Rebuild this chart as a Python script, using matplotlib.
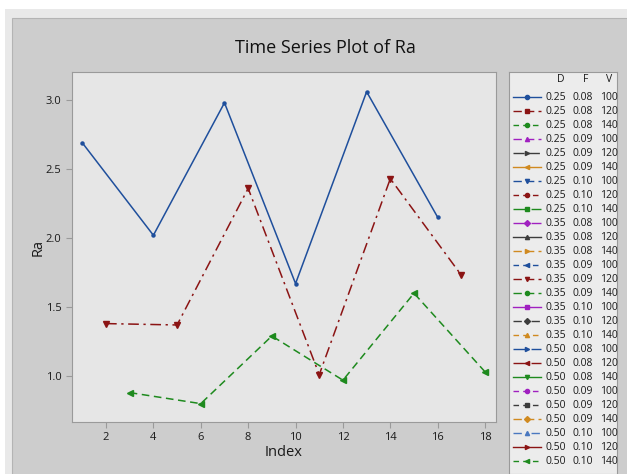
import matplotlib.pyplot as plt
from matplotlib.patches import Rectangle

plt.rcParams['font.family'] = ['Open Sans', 'DejaVu Sans']

# data
blue_idx = [1, 4, 7, 10, 13, 16]
blue_ra = [2.69, 2.02, 2.98, 1.67, 3.06, 2.15]
red_idx = [2, 5, 8, 11, 14, 17]
red_ra = [1.38, 1.37, 2.36, 1.01, 2.43, 1.73]
green_idx = [3, 6, 9, 12, 15, 18]
green_ra = [0.88, 0.80, 1.29, 0.97, 1.60, 1.03]

d_vals = ['0.25'] * 9 + ['0.35'] * 9 + ['0.50'] * 9
f_vals = (['0.08'] * 3 + ['0.09'] * 3 + ['0.10'] * 3) * 3
v_vals = ['100', '120', '140'] * 9

BLUE = '#1f4f9c'
RED = '#8b1414'
GREEN = '#1e8a1e'
PURPLE = '#a020c0'
GRAY = '#3c3c3c'
ORANGE = '#d08a20'

# legend styles: (color, linestyle, marker)
leg_styles = [
    (BLUE, '-', 'o'), (RED, (0, (6, 3)), 's'), (GREEN, (0, (4, 3)), 'o'),
    (PURPLE, (0, (6, 3)), '^'), (GRAY, (0, (8, 3)), '>'), (ORANGE, '-', '<'),
    (BLUE, (0, (6, 3)), 'v'), (RED, (0, (4, 3)), 'o'), (GREEN, (0, (10, 3)), 's'),
    (PURPLE, (0, (10, 3)), 'D'), (GRAY, '-', '^'), (ORANGE, (0, (6, 3)), '>'),
    (BLUE, (0, (4, 3)), '<'), (RED, (0, (6, 3)), 'v'), (GREEN, (0, (6, 3)), 'o'),
    (PURPLE, '-', 's'), (GRAY, (0, (6, 3, 1, 3)), 'D'), (ORANGE, (0, (4, 3)), '^'),
    (BLUE, (0, (10, 3)), '>'), (RED, (0, (10, 3)), '<'), (GREEN, '-', 'v'),
    (PURPLE, (0, (4, 3)), 'o'), (GRAY, (0, (4, 3)), 's'), (ORANGE, (0, (6, 3)), 'D'),
    ('#4a78c0', (0, (6, 3, 1, 3)), '^'), (RED, '-', '>'), (GREEN, (0, (4, 3)), '<'),
]

W, H = 627, 474
fig = plt.figure(figsize=(W / 100, H / 100), dpi=100)
fig.patch.set_facecolor('white')

def px_rect(x0, y0, x1, y1, **kw):
    fig.patches.append(Rectangle((x0 / W, 1 - y1 / H), (x1 - x0) / W, (y1 - y0) / H,
                                 transform=fig.transFigure, zorder=-10, **kw))

px_rect(5, 9, W + 2, H + 2, facecolor='#e9e9e9', edgecolor='none')
px_rect(12, 18, W + 2, H + 2, facecolor='#cdcdcd', edgecolor='#b4b4b4', lw=0.8)

ax = fig.add_axes([72 / W, 1 - 422 / H, (496 - 72) / W, (422 - 72) / H])
ax.set_facecolor('#e6e6e6')
ax.plot(blue_idx, blue_ra, color=BLUE, lw=1.1, marker='o', ms=2.2)
ax.plot(red_idx, red_ra, color=RED, lw=1.1, ls=(0, (7, 3, 1.5, 3)), marker='v', ms=4)
ax.plot(green_idx, green_ra, color=GREEN, lw=1.1, ls=(0, (5, 3)), marker='<', ms=4)

ax.set_xlim(0.565, 18.46)
ax.set_ylim(0.667, 3.203)
ax.set_xticks(range(2, 19, 2))
ax.set_yticks([1.0, 1.5, 2.0, 2.5, 3.0])
ax.set_yticklabels(['1.0', '1.5', '2.0', '2.5', '3.0'])
for s in ax.spines.values():
    s.set_color('#9a9a9a')
ax.tick_params(colors='#9a9a9a', labelcolor='#1a1a1a', labelsize=8, length=4, width=0.8)
ax.set_xlabel('Index', fontsize=10.5, color='#1a1a1a', labelpad=1)
ax.set_ylabel('Ra', fontsize=10.5, color='#1a1a1a', va='center')
ax.yaxis.set_label_coords(-0.08, 0.5)

fig.text(325 / W, 1 - 48 / H, 'Time Series Plot of Ra', ha='center', va='center',
         fontsize=13, color='#111111')

# legend box drawn in pixel units
lg = fig.add_axes([509 / W, 0, (617 - 509) / W, (H - 72) / H])
lg.set_xlim(0, 108)
lg.set_ylim(H - 72, 0)
lg.set_facecolor('#ececec')
for s in lg.spines.values():
    s.set_color('#9a9a9a')
lg.set_xticks([])
lg.set_yticks([])

tk = dict(fontsize=7.5, color='#1a1a1a', va='center')
lg.text(52, 8, 'D', ha='center', **tk)
lg.text(77, 8, 'F', ha='center', **tk)
lg.text(100, 8, 'V', ha='center', **tk)
for i, (c, ls, mk) in enumerate(leg_styles):
    y = 25 + 14 * i
    lg.plot([4, 32], [y, y], color=c, ls=ls, lw=1.0)
    lg.plot([18], [y], color=c, marker=mk, ms=3)
    lg.text(47, y, d_vals[i], ha='center', **tk)
    lg.text(74, y, f_vals[i], ha='center', **tk)
    lg.text(100, y, v_vals[i], ha='center', **tk)

fig.savefig('out.png', dpi=100)
